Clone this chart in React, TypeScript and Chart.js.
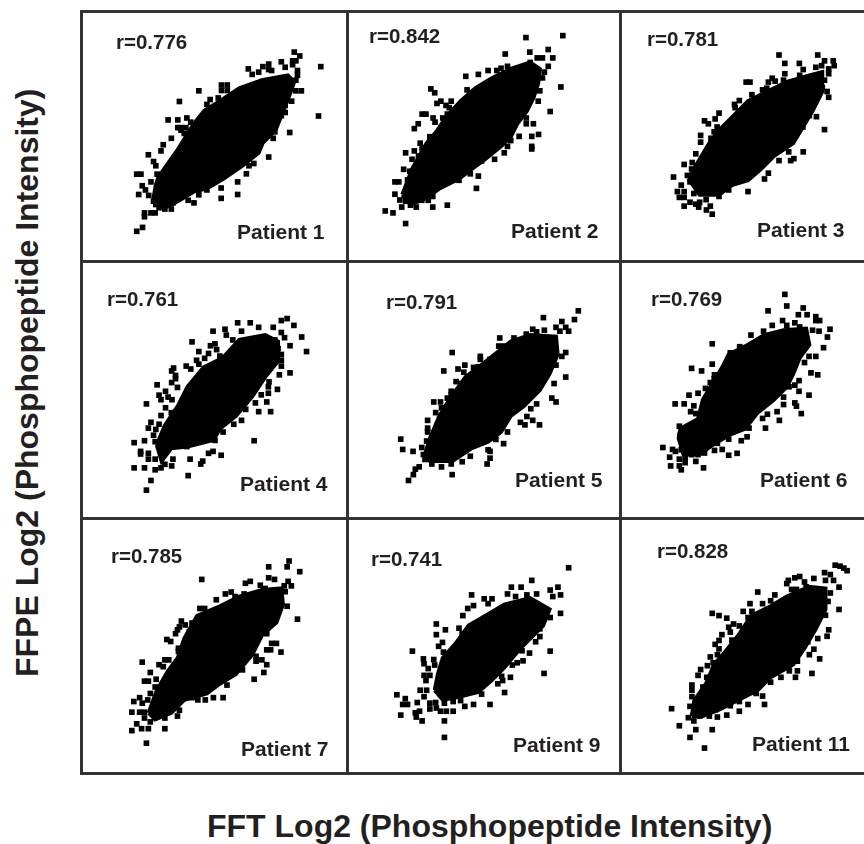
import React, { useEffect, useRef } from "react";
import { Chart, registerables } from "chart.js";

Chart.register(...registerables);

type XY = [number, number];

// "core" is the outline of the saturated region where single points cannot be told apart.
const patient1Core: XY[] = [[222,235],[230,260],[262,305],[290,345],[340,425],[372,465],[420,495],[480,535],[550,560],[630,575],[650,555],[632,505],[612,455],[592,405],[552,365],[540,335],[490,295],[432,255],[380,225],[340,215],[290,185],[250,165],[215,195]];
const patient1Points: XY[] = [[650,647],[667,635],[645,620],[655,620],[645,608],[732,602],[725,449],[508,595],[553,602],[571,610],[571,593],[610,617],[622,600],[660,590],[660,575],[655,560],[520,578],[540,585],[580,590],[425,545],[443,545],[425,528],[443,528],[355,527],[655,527],[672,527],[642,495],[295,494],[390,500],[415,505],[380,485],[622,482],[622,460],[610,450],[260,437],[290,437],[318,443],[330,430],[290,413],[300,413],[315,413],[300,405],[310,395],[636,398],[590,400],[585,380],[270,380],[245,360],[238,341],[199,329],[215,308],[222,295],[571,322],[525,302],[510,295],[502,270],[163,269],[176,269],[226,269],[245,269],[207,245],[180,233],[169,206],[190,220],[200,203],[215,185],[222,175],[232,165],[250,161],[270,161],[220,149],[207,149],[187,149],[187,137],[181,104],[163,92],[475,245],[424,226],[475,206],[424,194],[380,220],[355,205],[340,180],[322,188],[275,180]];
const patient2Core: XY[] = [[165,205],[195,285],[240,365],[270,400],[300,445],[345,495],[390,535],[440,565],[500,595],[560,615],[590,595],[585,550],[570,505],[550,465],[520,425],[500,385],[470,355],[420,315],[380,285],[340,255],[280,225],[240,195],[190,175]];
const patient2Points: XY[] = [[547,692],[661,698],[483,641],[559,647],[616,655],[630,629],[582,629],[598,629],[560,615],[616,603],[604,585],[598,567],[655,539],[590,527],[585,495],[622,463],[570,425],[548,425],[548,443],[586,392],[565,386],[526,386],[565,355],[565,347],[500,373],[490,355],[480,335],[450,315],[410,310],[400,263],[394,225],[361,572],[400,578],[430,590],[457,590],[470,597],[490,603],[253,533],[265,521],[365,530],[272,488],[284,495],[300,482],[316,495],[310,475],[226,455],[238,455],[304,455],[260,443],[290,443],[266,430],[214,425],[202,410],[250,385],[220,365],[202,341],[175,335],[226,347],[215,325],[195,315],[169,284],[188,278],[181,251],[142,245],[154,245],[142,207],[157,189],[175,185],[163,167],[190,173],[208,167],[225,188],[245,188],[259,200],[259,167],[304,173],[112,155],[136,149],[175,116],[340,250],[375,270]];
const patient3Core: XY[] = [[215,255],[250,315],[280,365],[310,405],[350,445],[400,495],[460,525],[520,555],[590,575],[630,585],[630,525],[600,465],[570,415],[540,365],[480,325],[440,285],[400,250],[350,235],[310,205],[250,205]];
const patient3Points: XY[] = [[496,638],[616,638],[514,612],[559,612],[571,593],[610,600],[628,605],[637,620],[664,620],[667,605],[650,595],[650,580],[514,580],[560,575],[637,560],[394,554],[406,554],[463,554],[475,566],[484,557],[510,560],[630,537],[645,525],[650,507],[458,535],[445,530],[412,515],[358,485],[373,497],[360,475],[310,458],[265,434],[277,425],[298,440],[304,415],[295,400],[253,389],[253,368],[285,380],[637,407],[612,447],[590,450],[570,415],[238,332],[227,305],[202,299],[526,338],[571,338],[542,317],[532,311],[496,311],[463,272],[451,254],[400,215],[340,220],[169,260],[212,265],[225,285],[193,235],[220,245],[240,250],[181,215],[202,215],[187,197],[202,197],[232,209],[262,215],[300,220],[310,200],[270,190],[220,182],[202,170],[238,176],[250,182],[247,167],[283,170],[271,158],[289,145]];
const patient4Core: XY[] = [[225,220],[250,280],[290,340],[320,400],[370,460],[430,490],[480,545],[560,560],[600,540],[600,480],[560,430],[520,370],[470,310],[420,270],[400,235],[320,215],[270,210],[240,170]];
const patient4Points: XY[] = [[628,611],[610,605],[649,590],[475,598],[514,598],[399,572],[436,578],[487,572],[540,584],[585,584],[610,568],[673,554],[637,527],[688,509],[334,539],[405,533],[391,527],[410,515],[355,509],[440,560],[460,545],[385,503],[348,482],[373,488],[420,495],[277,458],[271,449],[316,464],[330,455],[355,470],[283,435],[283,425],[271,413],[226,406],[252,386],[289,398],[232,374],[238,360],[260,368],[272,360],[193,347],[252,335],[270,320],[238,311],[207,290],[232,284],[199,272],[222,268],[215,250],[155,227],[187,233],[220,230],[175,200],[175,192],[199,194],[199,176],[220,176],[155,149],[187,149],[220,143],[238,149],[250,160],[271,155],[275,176],[328,176],[367,170],[361,161],[385,194],[399,200],[424,188],[322,125],[207,110],[193,80],[526,233],[540,323],[577,323],[565,353],[598,392],[637,443],[604,437],[610,464],[610,482],[570,400],[572,415],[570,380],[548,375],[530,350],[500,330],[487,296],[463,284],[430,260],[405,234],[370,234],[318,215],[610,500],[600,518],[590,545],[620,552]];
const patient5Core: XY[] = [[235,190],[250,240],[280,310],[310,360],[360,430],[400,460],[450,500],[500,540],[560,560],[640,555],[645,500],[620,440],[590,390],[540,340],[500,310],[470,260],[430,230],[380,210],[320,170],[250,170]];
const patient5Points: XY[] = [[709,635],[697,608],[601,614],[658,602],[640,584],[670,584],[652,572],[679,572],[568,578],[604,575],[580,570],[548,563],[466,551],[510,551],[532,545],[463,526],[478,526],[319,506],[670,506],[658,494],[406,494],[406,485],[436,485],[640,467],[293,449],[337,455],[358,467],[355,445],[385,460],[400,462],[670,430],[634,410],[331,416],[345,410],[345,395],[316,386],[316,375],[627,365],[640,353],[262,353],[283,353],[304,365],[286,335],[268,320],[580,347],[562,332],[550,308],[530,290],[544,282],[568,296],[589,282],[280,300],[274,285],[243,296],[243,272],[243,260],[460,260],[490,260],[478,224],[454,237],[430,205],[436,200],[436,179],[427,161],[375,185],[350,168],[160,238],[166,206],[198,200],[225,212],[240,232],[230,190],[235,175],[256,161],[286,152],[316,161],[217,152],[205,145],[199,128],[184,110],[319,128]];
const patient6Core: XY[] = [[190,270],[245,300],[260,360],[290,410],[320,460],[340,500],[400,530],[450,560],[510,575],[580,580],[590,530],[560,490],[540,440],[520,400],[480,360],[430,320],[390,270],[340,250],[290,220],[250,190],[200,190],[185,240]];
const patient6Points: XY[] = [[514,686],[520,650],[571,644],[462,635],[556,623],[583,623],[610,617],[610,605],[622,605],[507,605],[475,590],[520,590],[545,598],[560,585],[654,578],[620,572],[600,575],[646,554],[634,521],[610,494],[289,533],[374,524],[409,560],[448,572],[589,494],[575,475],[595,443],[616,437],[289,470],[225,457],[256,449],[296,437],[295,425],[345,505],[350,490],[558,419],[545,405],[558,386],[589,374],[527,400],[510,368],[217,374],[245,380],[268,395],[283,413],[174,347],[202,347],[232,341],[222,323],[238,317],[510,345],[545,350],[550,340],[565,317],[490,323],[460,315],[445,302],[497,296],[454,272],[403,272],[397,245],[379,233],[340,238],[340,188],[366,194],[320,206],[296,203],[262,149],[187,278],[190,250],[215,275],[195,230],[136,212],[166,206],[175,200],[193,205],[157,182],[187,176],[205,180],[205,165],[238,169],[160,155],[187,155],[193,143],[225,190],[245,190],[265,195],[305,225]];
const patient7Core: XY[] = [[200,180],[225,250],[260,310],[290,350],[310,410],[350,480],[420,510],[480,540],[550,560],[610,565],[615,515],[595,460],[550,420],[520,360],[470,300],[420,270],[380,240],[310,220],[270,180],[220,160]];
const patient7Points: XY[] = [[634,650],[628,632],[571,632],[667,617],[364,593],[571,598],[589,593],[631,587],[641,573],[619,573],[514,587],[499,581],[545,575],[560,565],[622,555],[437,548],[455,554],[467,540],[495,548],[409,530],[628,510],[358,503],[373,503],[385,485],[301,464],[334,458],[295,446],[313,452],[289,437],[283,425],[256,407],[268,401],[325,430],[580,395],[595,395],[660,470],[565,425],[565,375],[577,375],[609,368],[292,380],[292,370],[250,344],[262,344],[180,337],[232,329],[245,323],[532,355],[532,340],[550,344],[565,329],[556,305],[490,313],[526,284],[205,305],[223,284],[187,278],[199,278],[220,260],[442,266],[205,240],[172,227],[154,215],[180,210],[197,220],[430,227],[400,227],[375,220],[352,220],[334,227],[148,182],[172,182],[187,182],[187,164],[205,152],[250,164],[289,170],[295,188],[250,131],[163,146],[178,131],[199,131],[148,125],[193,86]];
const patient9Core: XY[] = [[265,250],[275,300],[290,350],[330,395],[370,450],[430,485],[480,515],[560,535],[620,500],[600,450],[560,410],[530,380],[480,320],[440,280],[400,245],[340,230],[290,220]];
const patient9Points: XY[] = [[679,629],[565,590],[502,569],[532,569],[646,569],[622,560],[490,548],[515,540],[550,545],[580,548],[630,540],[654,545],[379,545],[418,533],[442,533],[430,518],[385,512],[367,503],[352,481],[270,455],[298,437],[270,422],[340,442],[350,425],[654,488],[622,475],[590,440],[590,416],[577,400],[622,371],[558,365],[535,372],[538,341],[520,335],[505,328],[603,302],[499,290],[472,293],[475,280],[460,270],[481,243],[436,206],[385,206],[358,200],[410,238],[289,398],[277,386],[196,371],[292,368],[230,347],[232,332],[262,345],[245,317],[265,328],[232,296],[250,296],[238,280],[280,290],[220,250],[240,250],[148,236],[174,224],[166,206],[181,206],[211,212],[160,173],[205,180],[218,185],[208,167],[226,155],[295,155],[295,104],[250,210],[250,192],[268,212],[283,185],[301,185],[322,185],[322,215],[345,218],[295,210],[270,195],[232,230]];
const patient11Core: XY[] = [[225,170],[235,220],[270,270],[295,330],[330,370],[370,420],[410,480],[470,510],[520,540],[590,570],[640,565],[640,500],[610,440],[575,380],[540,330],[470,290],[430,250],[370,220],[310,190],[260,170]];
const patient11Points: XY[] = [[670,637],[685,634],[697,628],[707,620],[637,614],[655,608],[640,590],[665,590],[682,569],[604,596],[655,551],[648,525],[682,500],[640,482],[650,437],[645,417],[616,410],[604,377],[622,347],[598,302],[585,400],[590,360],[553,340],[553,310],[547,290],[528,310],[502,290],[470,275],[445,232],[451,206],[425,240],[400,206],[373,185],[334,173],[373,215],[430,554],[483,545],[470,527],[445,518],[406,518],[385,494],[412,494],[289,488],[310,481],[334,473],[400,475],[355,455],[373,449],[340,445],[345,430],[319,422],[310,404],[298,392],[350,405],[310,378],[283,353],[305,360],[274,326],[253,314],[245,296],[292,335],[272,290],[226,266],[226,250],[260,260],[226,230],[260,230],[163,193],[220,200],[235,210],[215,165],[232,155],[187,140],[238,128],[289,128],[220,104],[265,71],[250,170],[280,170],[305,167],[300,190],[320,205],[345,202],[525,590],[545,598],[560,602],[575,585],[520,580],[535,562],[550,562],[580,570]];

const patientLabels = ["Patient 1", "Patient 2", "Patient 3", "Patient 4", "Patient 5", "Patient 6", "Patient 7", "Patient 9", "Patient 11"];
const correlations = ["r=0.776", "r=0.842", "r=0.781", "r=0.761", "r=0.791", "r=0.769", "r=0.785", "r=0.741", "r=0.828"];
const corePolygons = [patient1Core, patient2Core, patient3Core, patient4Core, patient5Core, patient6Core, patient7Core, patient9Core, patient11Core];
const scatterPoints = [patient1Points, patient2Points, patient3Points, patient4Points, patient5Points, patient6Points, patient7Points, patient9Points, patient11Points];

const xTitle = "FFT Log2 (Phosphopeptide Intensity)";
const yTitle = "FFPE Log2 (Phosphopeptide Intensity)";

// Layout only.
const panelBoxes = [
  { l: 80, t: 10, w: 270, h: 255, rx: 116, ry: 49, px: 237, py: 239 },
  { l: 345, t: 10, w: 270, h: 255, rx: 369, ry: 43, px: 511, py: 238 },
  { l: 615, t: 10, w: 249, h: 255, rx: 647, ry: 46, px: 757, py: 237 },
  { l: 80, t: 260, w: 270, h: 260, rx: 107, ry: 306, px: 240, py: 491 },
  { l: 345, t: 260, w: 270, h: 260, rx: 386, ry: 309, px: 515, py: 487 },
  { l: 615, t: 260, w: 249, h: 260, rx: 651, ry: 306, px: 760, py: 487 },
  { l: 80, t: 515, w: 270, h: 260, rx: 111, ry: 563, px: 241, py: 756 },
  { l: 345, t: 515, w: 270, h: 260, rx: 371, ry: 566, px: 513, py: 752 },
  { l: 615, t: 515, w: 249, h: 260, rx: 657, ry: 558, px: 752, py: 751 },
];
const frameColor = "#333333";
const textColor = "#231f20";
const fontFamily = '"Liberation Sans", Arial, sans-serif';

function Panel({ index }: { index: number }) {
  const ref = useRef<HTMLCanvasElement>(null);
  const b = panelBoxes[index];
  useEffect(() => {
    if (!ref.current) return;
    const toPts = (a: XY[]) => a.map(([x, y]) => ({ x, y }));
    const core = corePolygons[index];
    const chart = new Chart(ref.current, {
      type: "scatter",
      data: {
        datasets: [
          {
            label: patientLabels[index] + " core",
            data: toPts([...core, core[0]]),
            showLine: true,
            fill: "shape",
            backgroundColor: "#000000",
            borderColor: "#000000",
            borderWidth: 4,
            tension: 0,
            pointRadius: 0,
          },
          {
            label: patientLabels[index],
            data: toPts(scatterPoints[index]),
            pointStyle: "rect",
            pointRadius: 4,
            pointBorderWidth: 0,
            backgroundColor: "#000000",
            borderColor: "#000000",
          },
        ],
      } as any,
      options: {
        animation: false,
        responsive: false,
        maintainAspectRatio: false,
        layout: { padding: 0 },
        plugins: { legend: { display: false }, tooltip: { enabled: false }, title: { display: false } },
        scales: {
          x: { type: "linear", display: false, min: 0, max: b.w * 3 },
          y: { type: "linear", display: false, min: 0, max: b.h * 3 },
        },
      },
    });
    return () => chart.destroy();
  }, [index]);
  return (
    <canvas
      ref={ref}
      width={b.w}
      height={b.h}
      style={{ position: "absolute", left: b.l, top: b.t, width: b.w, height: b.h }}
    />
  );
}

function Label({ x, y, size, children }: { x: number; y: number; size: number; children: string }) {
  return (
    <span
      style={{
        position: "absolute",
        left: x,
        top: y - 0.8465 * size,
        fontFamily,
        fontWeight: 700,
        fontSize: size,
        lineHeight: `${size}px`,
        color: textColor,
        whiteSpace: "nowrap",
      }}
    >
      {children}
    </span>
  );
}

const hLines = [11, 261, 518, 773];
const vLines = [81, 347, 620];
const titleSize = 32;

export default function App() {
  return (
    <div style={{ position: "absolute", left: 0, top: 0, width: 864, height: 844, overflow: "hidden", background: "#fff" }}>
      {hLines.map((y) => (
        <div key={y} style={{ position: "absolute", left: 80, top: y - 1, width: 784, height: 2.5, background: frameColor }} />
      ))}
      {vLines.map((x) => (
        <div key={x} style={{ position: "absolute", left: x - 1, top: 10, width: 2.5, height: 764, background: frameColor }} />
      ))}
      {panelBoxes.map((_, i) => (
        <Panel key={i} index={i} />
      ))}
      {panelBoxes.map((b, i) => (
        <React.Fragment key={i}>
          <Label x={b.rx} y={b.ry} size={20.5}>{correlations[i]}</Label>
          <Label x={b.px} y={b.py} size={21}>{patientLabels[i]}</Label>
        </React.Fragment>
      ))}
      <Label x={207} y={837} size={titleSize}>{xTitle}</Label>
      <span
        style={{
          position: "absolute",
          left: 38 - 0.8465 * titleSize,
          top: 677,
          transformOrigin: "0 0",
          transform: "rotate(-90deg)",
          fontFamily,
          fontWeight: 700,
          fontSize: titleSize,
          lineHeight: `${titleSize}px`,
          color: textColor,
          whiteSpace: "nowrap",
        }}
      >
        {yTitle}
      </span>
    </div>
  );
}
